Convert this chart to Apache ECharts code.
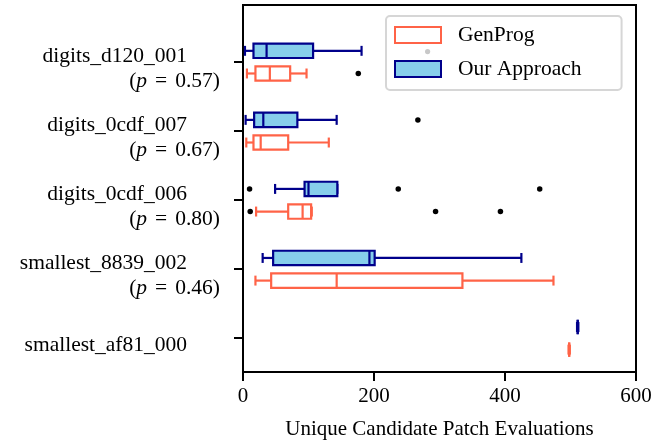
<!DOCTYPE html>
<html>
<head>
<meta charset="utf-8">
<script src="https://cdn.jsdelivr.net/npm/echarts@6/dist/echarts.min.js"></script>
<style>
  html, body { margin: 0; padding: 0; background: #fff; }
  #chart { width: 665px; height: 445px; }
</style>
</head>
<body>
<div id="chart"></div>
<script>
// ---- data ----
const categories = ['digits_d120_001', 'digits_0cdf_007', 'digits_0cdf_006', 'smallest_8839_002', 'smallest_af81_000'];
const pValues = ['0.57', '0.67', '0.80', '0.46', null];
// [min, q1, median, q3, max] per category
const ourStats = [
  [3, 16, 36, 107, 181],
  [4, 17, 31, 83, 143],
  [49, 94, 100, 144, 144],
  [30, 46, 193, 201, 425],
  [510, 511, 511, 511, 512]
];
const genStats = [
  [6, 19, 41, 72, 97],
  [5, 16, 27, 69, 131],
  [20, 69, 91, 104, 105],
  [19, 43, 143, 335, 474],
  [497, 498, 498, 498, 499]
];
// [category index, value]
const ourOutliers = [[1, 267], [2, 10], [2, 237], [2, 453]];
const genOutliers = [[0, 176], [2, 11], [2, 294], [2, 393]];
const xTicks = [0, 200, 400, 600];

// ---- styling ----
const FONT = "'Liberation Serif', 'Times New Roman', serif";
const GEN_COLOR = '#FF6347';
const OUR_EDGE = '#00008B';
const OUR_FILL = '#87CEEB';
const OUR_OFF = -0.163;
const GEN_OFF = 0.165;
const LW = 2.2;

function makeRender(offset, stroke, fill) {
  return function (params, api) {
    const y = api.value(0) + offset;
    const unit = api.size([0, 1])[1];
    const bh = 0.104 * unit;
    const ch = 0.072 * unit;
    const pMin = api.coord([api.value(1), y]);
    const pQ1 = api.coord([api.value(2), y]);
    const pMed = api.coord([api.value(3), y]);
    const pQ3 = api.coord([api.value(4), y]);
    const pMax = api.coord([api.value(5), y]);
    const cy = pMed[1];
    const ls = { stroke: stroke, lineWidth: LW, fill: null };
    return {
      type: 'group',
      children: [
        { type: 'line', shape: { x1: pMin[0], y1: cy, x2: pQ1[0], y2: cy }, style: ls },
        { type: 'line', shape: { x1: pQ3[0], y1: cy, x2: pMax[0], y2: cy }, style: ls },
        { type: 'line', shape: { x1: pMin[0], y1: cy - ch, x2: pMin[0], y2: cy + ch }, style: ls },
        { type: 'line', shape: { x1: pMax[0], y1: cy - ch, x2: pMax[0], y2: cy + ch }, style: ls },
        { type: 'rect', shape: { x: pQ1[0], y: cy - bh, width: pQ3[0] - pQ1[0], height: 2 * bh },
          style: { stroke: stroke, lineWidth: LW, fill: fill } },
        { type: 'line', shape: { x1: pMed[0], y1: cy - bh, x2: pMed[0], y2: cy + bh }, style: ls }
      ]
    };
  };
}

const chart = echarts.init(document.getElementById('chart'), null, { renderer: 'canvas' });

const catPositions = categories.map((c, i) => i + 1);

const option = {
  backgroundColor: '#ffffff',
  animation: false,
  textStyle: { fontFamily: FONT },
  grid: {
    left: 243, top: 5, width: 393, height: 368,
    show: true, borderColor: '#000', borderWidth: 2, backgroundColor: 'transparent'
  },
  xAxis: {
    type: 'value',
    min: 0, max: 600, interval: 200,
    axisLine: { show: true, lineStyle: { color: '#000', width: 2 } },
    axisTick: { show: true, inside: false, length: 9, lineStyle: { color: '#000', width: 2 } },
    axisLabel: { color: '#000', fontSize: 21, fontFamily: FONT, margin: 14 },
    splitLine: { show: false },
    name: 'Unique Candidate Patch Evaluations',
    nameLocation: 'middle',
    nameGap: 47,
    nameTextStyle: { color: '#000', fontSize: 21, fontFamily: FONT }
  },
  yAxis: {
    type: 'value',
    inverse: true,
    min: 0.173, max: 5.489,
    axisLine: { show: true, lineStyle: { color: '#000', width: 2 } },
    axisTick: { show: true, length: 9, lineStyle: { color: '#000', width: 2 }, customValues: catPositions },
    splitLine: { show: false },
    axisLabel: {
      customValues: catPositions,
      margin: 23,
      padding: [14, 0, 0, 0],
      color: '#000',
      fontFamily: FONT,
      fontSize: 21.5,
      formatter: function (v) {
        const i = Math.round(v) - 1;
        const name = categories[i];
        if (!name) return '';
        if (pValues[i] === null) return '{n|' + name + '}';
        return '{n|' + name + '}\n{t|(}{i|p}{e|=}{t|' + pValues[i] + ')}';
      },
      rich: {
        n: { fontFamily: FONT, fontSize: 21.5, color: '#000', lineHeight: 25, padding: [0, 33, 0, 0] },
        t: { fontFamily: FONT, fontSize: 21.5, color: '#000', lineHeight: 25 },
        e: { fontFamily: FONT, fontSize: 21.5, color: '#000', lineHeight: 25, padding: [0, 8, 0, 8] },
        i: { fontFamily: FONT, fontSize: 21.5, color: '#000', lineHeight: 25, fontStyle: 'italic' }
      }
    }
  },
  legend: {
    orient: 'vertical',
    left: 386, top: 16,
    padding: [8, 40, 10, 8],
    itemWidth: 46, itemHeight: 16, itemGap: 12,
    selectedMode: false,
    backgroundColor: '#ffffff',
    borderColor: '#d6d6d6', borderWidth: 2, borderRadius: 4,
    textStyle: { fontFamily: FONT, fontSize: 21.5, color: '#000', lineHeight: 22, padding: [0, 0, 0, 12] },
    data: [
      { name: 'GenProg', icon: 'rect', itemStyle: { color: '#ffffff', borderColor: GEN_COLOR, borderWidth: 2 } },
      { name: 'Our Approach', icon: 'rect', itemStyle: { color: OUR_FILL, borderColor: OUR_EDGE, borderWidth: 2 } }
    ]
  },
  graphic: [
    { type: 'circle', left: 425, top: 49, shape: { r: 2.6 }, style: { fill: '#c8c8c8' }, z: 100 }
  ],
  series: [
    {
      name: 'Our Approach',
      type: 'custom',
      renderItem: makeRender(OUR_OFF, OUR_EDGE, OUR_FILL),
      itemStyle: { color: OUR_FILL, borderColor: OUR_EDGE },
      encode: { x: [1, 2, 3, 4, 5], y: 0 },
      data: ourStats.map((s, i) => [i + 1].concat(s)),
      silent: true,
      clip: false
    },
    {
      name: 'GenProg',
      type: 'custom',
      renderItem: makeRender(GEN_OFF, GEN_COLOR, 'rgba(255,255,255,0)'),
      itemStyle: { color: '#ffffff', borderColor: GEN_COLOR },
      encode: { x: [1, 2, 3, 4, 5], y: 0 },
      data: genStats.map((s, i) => [i + 1].concat(s)),
      silent: true,
      clip: false
    },
    {
      name: 'Our outliers',
      type: 'scatter',
      symbol: 'circle',
      symbolSize: 5.5,
      itemStyle: { color: '#000', opacity: 1 },
      silent: true,
      data: ourOutliers.map(d => [d[1], d[0] + 1 + OUR_OFF])
    },
    {
      name: 'GenProg outliers',
      type: 'scatter',
      symbol: 'circle',
      symbolSize: 5.5,
      itemStyle: { color: '#000', opacity: 1 },
      silent: true,
      data: genOutliers.map(d => [d[1], d[0] + 1 + GEN_OFF])
    }
  ]
};

chart.setOption(option);
</script>
</body>
</html>
